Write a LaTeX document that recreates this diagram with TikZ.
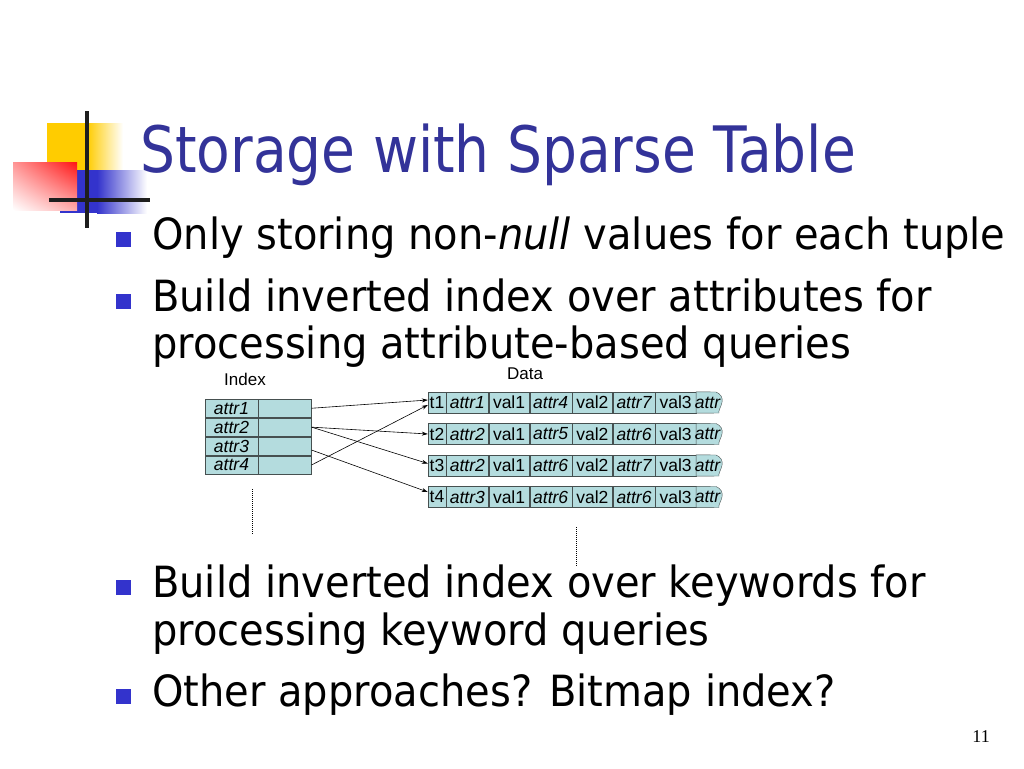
\documentclass[tikz,border=0pt]{standalone}
\usepackage{fontspec}
\setmainfont{DejaVu Sans}[FakeStretch=0.93]
\newfontfamily\titlefont{DejaVu Sans}[FakeStretch=0.86]
\newfontfamily\diagfont{Liberation Sans}
\newfontfamily\numfont{Liberation Serif}
\usetikzlibrary{positioning,arrows.meta,shadings}
\definecolor{titleblue}{RGB}{51,51,153}
\definecolor{bulletblue}{RGB}{51,51,204}
\definecolor{cellfill}{RGB}{180,220,222}
\definecolor{cellline}{RGB}{70,80,80}
\definecolor{logoyellow}{RGB}{255,204,0}
\definecolor{logored}{RGB}{255,20,20}
\definecolor{logoblue}{RGB}{51,51,204}
\definecolor{logoline}{RGB}{30,30,30}
\tikzset{
  bulletsq/.style={fill=bulletblue, minimum size=15pt, inner sep=0},
  bodytext/.style={anchor=base west, inner sep=0, font=\fontsize{43}{52}\selectfont},
  cellbase/.style={draw=cellline, fill=cellfill, inner sep=0, font=\diagfont\fontsize{17.5}{17.5}\selectfont},
  icell/.style={cellbase, minimum width=53pt, minimum height=18.5pt},
  tcell/.style={cellbase, minimum width=18pt, minimum height=21pt},
  acell/.style={cellbase, minimum width=42pt, minimum height=21pt, font=\diagfont\fontsize{17.5}{17.5}\selectfont\itshape},
  vcell/.style={cellbase, minimum width=40.5pt, minimum height=21pt},
  tailcell/.style={draw=cellline, fill=cellfill},
  arr/.style={-{Stealth[length=6pt,width=4pt]}, line width=0.6pt},
  dotline/.style={line width=1pt, dash pattern=on 1pt off 1pt},
}
\begin{document}
\begin{tikzpicture}[x=1pt, y=-1pt]
    \fill[white] (0, 0) rectangle (1024, 768);
    \useasboundingbox (0, 0) rectangle (1024, 768);
    % logo
    \fill[logoyellow] (47, 123) rectangle (87, 172);
    \shade[left color=logoyellow, right color=white] (87, 123) rectangle (123, 172);
    \fill[logoblue] (60, 170) rectangle (97, 213);
    \shade[left color=logoblue, right color=white] (97, 170) rectangle (147, 213);
    \shade[upper right=logored, upper left=logored!45!white, lower left=white, lower right=logored!35!white] (13, 162) rectangle (77, 210);
    \draw[logoline, line width=4pt] (87, 111) -- (87, 228);
    \draw[logoline, line width=3.5pt] (49, 200) -- (150, 200);
    % title and bullets
    \node[anchor=base west, inner sep=0, text=titleblue, font=\titlefont\fontsize{64}{64}\selectfont] (title) at (140, 172) {Storage with Sparse Table};
    \node[bulletsq] (b1) at (123, 239.5) {};
    \node[bodytext] (l1) at (152, 249) {Only storing non-\textit{null} values for each tuple};
    \node[bulletsq] (b2) at (123, 301.5) {};
    \node[bodytext] (l2) at (152, 311) {Build inverted index over attributes for};
    \node[bodytext] (l3) at (152, 358) {processing attribute-based queries};
    \node[bulletsq] (b3) at (123, 587.5) {};
    \node[bodytext] (l4) at (152, 597) {Build inverted index over keywords for};
    \node[bodytext] (l5) at (152, 645) {processing keyword queries};
    \node[bulletsq] (b4) at (123, 696.5) {};
    \node[bodytext] (l6) at (152, 706) {Other approaches? Bitmap index?};
    \node[anchor=base east, inner sep=0, font=\numfont\fontsize{18}{18}\selectfont] (pagenum) at (990, 742) {11};
    % index table
    \node[font=\diagfont\fontsize{17}{17}\selectfont] (indexlabel) at (245, 379) {Index};
    \node[icell, font=\diagfont\fontsize{17.5}{17.5}\selectfont\itshape] (a1) at (231.5, 408.25) {attr1};
    \node[icell, font=\diagfont\fontsize{17.5}{17.5}\selectfont\itshape, below=0pt of a1] (a2) {attr2};
    \node[icell, font=\diagfont\fontsize{17.5}{17.5}\selectfont\itshape, below=0pt of a2] (a3) {attr3};
    \node[icell, font=\diagfont\fontsize{17.5}{17.5}\selectfont\itshape, below=0pt of a3] (a4) {attr4};
    \node[icell, right=0pt of a1] (i1) {};
    \node[icell, right=0pt of a2] (i2) {};
    \node[icell, right=0pt of a3] (i3) {};
    \node[icell, right=0pt of a4] (i4) {};
    \draw[dotline] (252, 489) -- (252, 534);
    % data rows
    \node[font=\diagfont\fontsize{17}{17}\selectfont] (datalabel) at (525, 374) {Data};
    \node[tcell] (t1) at (437, 402.5) {t1};
    \node[acell, right=0pt of t1] (t1a) {attr1}; \node[vcell, right=0pt of t1a] (t1b) {val1};
    \node[acell, right=0pt of t1b] (t1c) {attr4}; \node[vcell, right=0pt of t1c] (t1d) {val2};
    \node[acell, right=0pt of t1d] (t1e) {attr7}; \node[vcell, right=0pt of t1e] (t1f) {val3};
    \node[tcell] (t2) at (437, 434) {t2};
    \node[acell, right=0pt of t2] (t2a) {attr2}; \node[vcell, right=0pt of t2a] (t2b) {val1};
    \node[acell, right=0pt of t2b] (t2c) {attr5}; \node[vcell, right=0pt of t2c] (t2d) {val2};
    \node[acell, right=0pt of t2d] (t2e) {attr6}; \node[vcell, right=0pt of t2e] (t2f) {val3};
    \node[tcell] (t3) at (437, 465.5) {t3};
    \node[acell, right=0pt of t3] (t3a) {attr2}; \node[vcell, right=0pt of t3a] (t3b) {val1};
    \node[acell, right=0pt of t3b] (t3c) {attr6}; \node[vcell, right=0pt of t3c] (t3d) {val2};
    \node[acell, right=0pt of t3d] (t3e) {attr7}; \node[vcell, right=0pt of t3e] (t3f) {val3};
    \node[tcell] (t4) at (437, 497) {t4};
    \node[acell, right=0pt of t4] (t4a) {attr3}; \node[vcell, right=0pt of t4a] (t4b) {val1};
    \node[acell, right=0pt of t4b] (t4c) {attr6}; \node[vcell, right=0pt of t4c] (t4d) {val2};
    \node[acell, right=0pt of t4d] (t4e) {attr6}; \node[vcell, right=0pt of t4e] (t4f) {val3};
    % torn ends
    \filldraw[tailcell] (t1f.north east) -- (716, 392) .. controls (721, 394) and (723, 398) .. (722, 402.5) .. controls (721, 407) and (718, 411) .. (719, 413) -- (t1f.south east) -- cycle;
    \filldraw[tailcell] (t2f.north east) -- (716, 423.5) .. controls (721, 425.5) and (723, 429.5) .. (722, 434) .. controls (721, 438.5) and (718, 442.5) .. (719, 444.5) -- (t2f.south east) -- cycle;
    \filldraw[tailcell] (t3f.north east) -- (716, 455) .. controls (721, 457) and (723, 461) .. (722, 465.5) .. controls (721, 470) and (718, 474) .. (719, 476) -- (t3f.south east) -- cycle;
    \filldraw[tailcell] (t4f.north east) -- (716, 486.5) .. controls (721, 488.5) and (723, 492.5) .. (722, 497) .. controls (721, 501.5) and (718, 505.5) .. (719, 507.5) -- (t4f.south east) -- cycle;
    \node[acell, draw=none, fill=none, minimum width=0pt] (t1g) at (707.5, 402.5) {attr};
    \node[acell, draw=none, fill=none, minimum width=0pt] (t2g) at (707.5, 434) {attr};
    \node[acell, draw=none, fill=none, minimum width=0pt] (t3g) at (707.5, 465.5) {attr};
    \node[acell, draw=none, fill=none, minimum width=0pt] (t4g) at (707.5, 497) {attr};
    \draw[dotline] (576.5, 527) -- (576.5, 567);
    % pointers
    \draw[arr] (i1.east) -- ([yshift=2.5pt]t1.west);
    \draw[arr] (i4.east) -- ([yshift=-2.5pt]t1.west);
    \draw[arr] (i2.east) -- (t2.west);
    \draw[arr] (i2.east) -- ([yshift=2pt]t3.west);
    \draw[arr] ([yshift=-4pt]i3.east) -- ([yshift=5pt]t4.west);
\end{tikzpicture}
\end{document}
